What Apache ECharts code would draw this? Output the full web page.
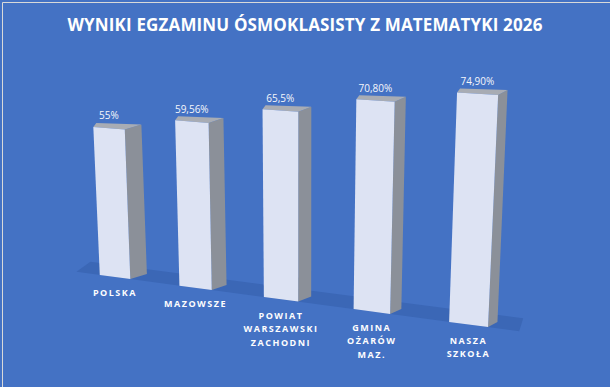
<!DOCTYPE html>
<html>
<head>
<meta charset="utf-8">
<script src="https://cdn.jsdelivr.net/npm/echarts@6/dist/echarts.min.js"></script>
<style>
html, body { margin: 0; padding: 0; background: #4472c4; }
#chart { width: 610px; height: 387px; }
/* rozstrzelone etykiety kategorii (jak w Excelu) */
#chart text[fill="#fdfdfe"] { letter-spacing: 1.5px; }
#chart text[fill="#fffffe"] { letter-spacing: 0.15px; }
</style>
</head>
<body>
<div id="chart"></div>
<script>
const CATEGORIES = ['POLSKA', 'MAZOWSZE', 'POWIAT\nWARSZAWSKI\nZACHODNI', 'GMINA\nOŻARÓW\nMAZ.', 'NASZA\nSZKOŁA']
const VALUES = [55, 59.56, 65.5, 70.8, 74.9]
const VALUE_LABELS = ['55%', '59,56%', '65,5%', '70,80%', '74,90%']
const Y_MAX = 80

// widok 3D: gdzie trafiają rogi płaszczyzny przedniej (s,t) = (0,0) (1,0) (1,1) (0,1)
const FRAME = [[76.4, 271.8], [519.2, 331.3], [531.9, 80.1], [65.8, 55.0]]
const BAR_FRACTION = 0.39

const FRONT = '#dde3f3'
const SIDE = '#8b9099'
const TOP = '#a8acb4'
const FLOOR = '#3b67b6'

// homografia kwadrat jednostkowy -> czworokąt
function makeProjector(q) {
  const [x0, y0] = q[0], [x1, y1] = q[1], [x2, y2] = q[2], [x3, y3] = q[3]
  const dx1 = x1 - x2, dx2 = x3 - x2, dx3 = x0 - x1 + x2 - x3
  const dy1 = y1 - y2, dy2 = y3 - y2, dy3 = y0 - y1 + y2 - y3
  const den = dx1 * dy2 - dx2 * dy1
  const g = (dx3 * dy2 - dx2 * dy3) / den
  const h = (dx1 * dy3 - dx3 * dy1) / den
  const a = x1 - x0 + g * x1, b = x3 - x0 + h * x3, c = x0
  const d = y1 - y0 + g * y1, e = y3 - y0 + h * y3, f = y0
  return (s, t) => {
    const w = g * s + h * t + 1
    return [(a * s + b * t + c) / w, (d * s + e * t + f) / w]
  }
}
const project = makeProjector(FRAME)

function toST(rect, px, py) {
  return [(px - rect.x) / rect.width, (rect.y + rect.height - py) / rect.height]
}

function add(p, dx, dy) {
  return [p[0] + dx, p[1] + dy]
}

function renderBar(params, api) {
  const rect = params.coordSys
  const i = api.value(0)
  const top = api.coord([i, api.value(1)])
  const base = api.coord([i, 0])
  const half = api.size([1, 0])[0] * BAR_FRACTION / 2
  const [sL, t0] = toST(rect, top[0] - half, base[1])
  const [sR, tV] = toST(rect, top[0] + half, top[1])
  const sC = (sL + sR) / 2

  const bl = project(sL, t0), br = project(sR, t0)
  const tr = project(sR, tV), tl = project(sL, tV)
  const depth = 17.5 - 9 * sC

  const side = [tr, add(tr, depth, -5), add(br, depth, -5), br]
  const topFace = [tl, add(tl, 3, -4), add(tr, depth, -5), tr]
  const front = [bl, br, tr, tl]

  const labelPos = project(sC, tV)
  const catPos = project(sC, t0)

  return {
    type: 'group',
    children: [
      { type: 'polygon', shape: { points: side }, style: { fill: SIDE } },
      { type: 'polygon', shape: { points: topFace }, style: { fill: TOP } },
      { type: 'polygon', shape: { points: front }, style: { fill: FRONT } },
      {
        type: 'text', x: labelPos[0], y: labelPos[1] - 13,
        style: {
          text: VALUE_LABELS[params.dataIndex], fill: '#f4f6fb',
          fontSize: 10, fontFamily: 'Open Sans', align: 'center', verticalAlign: 'middle',
        },
      },
      {
        type: 'text', x: catPos[0], y: catPos[1] + 9,
        style: {
          text: CATEGORIES[params.dataIndex], fill: '#fdfdfe',
          fontSize: 9, fontWeight: 'bold', fontFamily: 'Open Sans', lineHeight: 13.5,
          align: 'center', verticalAlign: 'top',
        },
      },
    ],
  }
}

function renderFloor(params, api) {
  const fl = project(0, 0), fr = project(1, 0)
  return {
    type: 'polygon',
    shape: { points: [fl, fr, add(fr, 4, -13), add(fl, 14, -10)] },
    style: { fill: FLOOR },
  }
}

const chart = echarts.init(document.getElementById('chart'), null, { renderer: 'svg' })
chart.setOption({
  backgroundColor: '#4472c4',
  animation: false,
  title: {
    text: 'WYNIKI EGZAMINU ÓSMOKLASISTY Z MATEMATYKI 2026',
    left: 'center',
    top: 11,
    textStyle: { color: '#fffffe', fontSize: 17, fontWeight: 'bold', fontFamily: 'Open Sans' },
  },
  graphic: [{
    type: 'rect', left: 0, top: 0, z: 100,
    shape: { x: 0.5, y: 0.5, width: 609, height: 386 },
    style: { fill: 'none', stroke: '#d9d9d9', lineWidth: 1 },
  }],
  grid: { left: 0, right: 0, top: 0, bottom: 0 },
  xAxis: { type: 'category', data: CATEGORIES, show: false },
  yAxis: { type: 'value', min: 0, max: Y_MAX, show: false },
  series: [
    { type: 'custom', z: 1, renderItem: renderFloor, data: [[0, 0]], silent: true },
    { type: 'custom', z: 2, renderItem: renderBar, data: VALUES.map((v, i) => [i, v]) },
  ],
})
</script>
</body>
</html>
